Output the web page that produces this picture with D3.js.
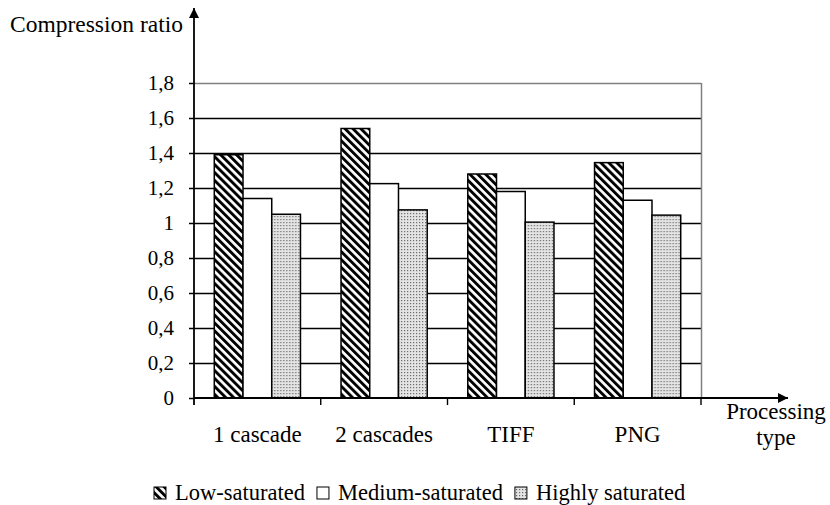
<!DOCTYPE html>
<html>
<head>
<meta charset="utf-8">
<script src="https://cdn.jsdelivr.net/npm/d3@7"></script>
<style>
  body { margin:0; background:#fff; }
  text { font-family: "Liberation Serif", "Times New Roman", serif; fill:#000; }
</style>
</head>
<body>
<svg id="chart" width="830" height="505"></svg>
<script>
// chart data
var categories = ["1 cascade", "2 cascades", "TIFF", "PNG"];
var seriesNames = ["Low-saturated", "Medium-saturated", "Highly saturated"];
var lowSat = [1.39, 1.54, 1.28, 1.345];
var medSat = [1.14, 1.225, 1.18, 1.13];
var highSat = [1.05, 1.075, 1.005, 1.045];
var yTicks = [0, 0.2, 0.4, 0.6, 0.8, 1, 1.2, 1.4, 1.6, 1.8];

var allSeries = [lowSat, medSat, highSat];
var fills = ["url(#hatch)", "#fff", "url(#dots)"];

var svg = d3.select("#chart");
var defs = svg.append("defs");

// diagonal hatch "\"
var hatch = defs.append("pattern")
    .attr("id","hatch")
    .attr("patternUnits","userSpaceOnUse")
    .attr("width",5.6).attr("height",5.6)
    .attr("patternTransform","rotate(-45)");
hatch.append("rect").attr("width",5.6).attr("height",5.6).attr("fill","#fff");
hatch.append("rect").attr("width",2.9).attr("height",5.6).attr("fill","#000");

// fine dotted grey
var dots = defs.append("pattern")
    .attr("id","dots")
    .attr("patternUnits","userSpaceOnUse")
    .attr("width",3).attr("height",3);
dots.append("rect").attr("width",3).attr("height",3).attr("fill","#e4e4e4");
dots.append("rect").attr("width",1.2).attr("height",1.2).attr("fill","#6a6a6a");

var marker = defs.append("marker")
    .attr("id","arrow")
    .attr("viewBox","0 0 10 10")
    .attr("refX",10).attr("refY",5)
    .attr("markerWidth",10).attr("markerHeight",10)
    .attr("markerUnits","userSpaceOnUse")
    .attr("orient","auto");
marker.append("path").attr("d","M0,0 L10,5 L0,10 Z").attr("fill","#000");

var plotLeft = 194, plotRight = 701, plotTop = 83, plotBottom = 398;

var y = d3.scaleLinear().domain([0,1.8]).range([plotBottom, plotTop]);
var x0 = d3.scaleBand().domain(categories).range([plotLeft, plotRight])
    .paddingInner(0.32).paddingOuter(0.16);
var x1 = d3.scaleBand().domain(d3.range(seriesNames.length)).range([0, x0.bandwidth()]);

// gridlines
svg.append("g").selectAll("line")
    .data(yTicks.filter(function(d){ return d > 0; }))
    .enter().append("line")
    .attr("x1", plotLeft).attr("x2", plotRight)
    .attr("y1", function(d){ return Math.round(y(d)) + 0.5; })
    .attr("y2", function(d){ return Math.round(y(d)) + 0.5; })
    .attr("stroke", function(d){ return d === 1.8 ? "#808080" : "#000"; })
    .attr("stroke-width", function(d){ return d === 1.8 ? 1.5 : 1.4; });

// right border of plot area
svg.append("line")
    .attr("x1", plotRight + 0.5).attr("x2", plotRight + 0.5).attr("y1", y(1.8)).attr("y2", plotBottom)
    .attr("stroke", "#808080").attr("stroke-width", 1.5);

// bars
var groups = svg.append("g").selectAll("g")
    .data(categories)
    .enter().append("g")
    .attr("transform", function(d){ return "translate(" + x0(d) + ",0)"; });

groups.selectAll("rect")
    .data(function(d, i){ return allSeries.map(function(s, j){ return {s:j, v:s[i]}; }); })
    .enter().append("rect")
    .attr("x", function(d){ return x1(d.s); })
    .attr("width", x1.bandwidth())
    .attr("y", function(d){ return y(d.v); })
    .attr("height", function(d){ return plotBottom - y(d.v); })
    .attr("fill", function(d){ return fills[d.s]; })
    .attr("stroke", "#000")
    .attr("stroke-width", 1.5);

// y axis with ticks
var yAxis = d3.axisLeft(y).tickValues(yTicks).tickSize(5).tickPadding(15)
    .tickFormat(function(d){ return String(d).replace(".", ","); });
var ya = svg.append("g").attr("transform","translate(" + plotLeft + ",0)").call(yAxis);
ya.select(".domain").remove();
ya.selectAll(".tick line").attr("stroke","#000").attr("stroke-width",1.5);
ya.selectAll(".tick text").style("font-family","Liberation Serif").style("font-size","21px").attr("dy","0.33em");

// category separators
var sep = categories.map(function(c){ return x0(c) - x0.step() * 0.16; }).slice(1);
sep.push(plotRight);
svg.append("g").selectAll("line").data(sep).enter().append("line")
    .attr("x1", function(d){ return d; }).attr("x2", function(d){ return d; })
    .attr("y1", plotBottom).attr("y2", plotBottom + 7)
    .attr("stroke","#000").attr("stroke-width",1.4);

// category labels
svg.append("g").selectAll("text").data(categories).enter().append("text")
    .attr("x", function(d){ return x0(d) + x0.bandwidth()/2; })
    .attr("y", 442)
    .attr("text-anchor","middle")
    .style("font-size","23px")
    .text(function(d){ return d; });

// axis arrows
svg.append("line")
    .attr("x1", plotLeft).attr("x2", plotLeft).attr("y1", plotBottom + 7).attr("y2", 8)
    .attr("stroke","#000").attr("stroke-width",1.8).attr("marker-end","url(#arrow)");
svg.append("line")
    .attr("x1", plotLeft).attr("x2", 788).attr("y1", plotBottom).attr("y2", plotBottom)
    .attr("stroke","#000").attr("stroke-width",2).attr("marker-end","url(#arrow)");

// axis titles
svg.append("text").attr("x", 10).attr("y", 32).style("font-size","23.5px").text("Compression ratio");
var xt = svg.append("text").attr("x", 776).attr("y", 419).attr("text-anchor","middle").style("font-size","23px");
xt.append("tspan").attr("x", 776).text("Processing");
xt.append("tspan").attr("x", 776).attr("dy", 26).text("type");

// legend
var lg = svg.append("g");
var lx = 154;
seriesNames.forEach(function(name, i){
    lg.append("rect").attr("x", lx).attr("y", 487).attr("width", 12).attr("height", 12)
        .attr("fill", fills[i]).attr("stroke","#000").attr("stroke-width",1);
    var t = lg.append("text").attr("x", lx + 21).attr("y", 500).style("font-size","22.5px").text(name);
    lx = lx + 21 + t.node().getComputedTextLength() + 12;
});
</script>
</body>
</html>
